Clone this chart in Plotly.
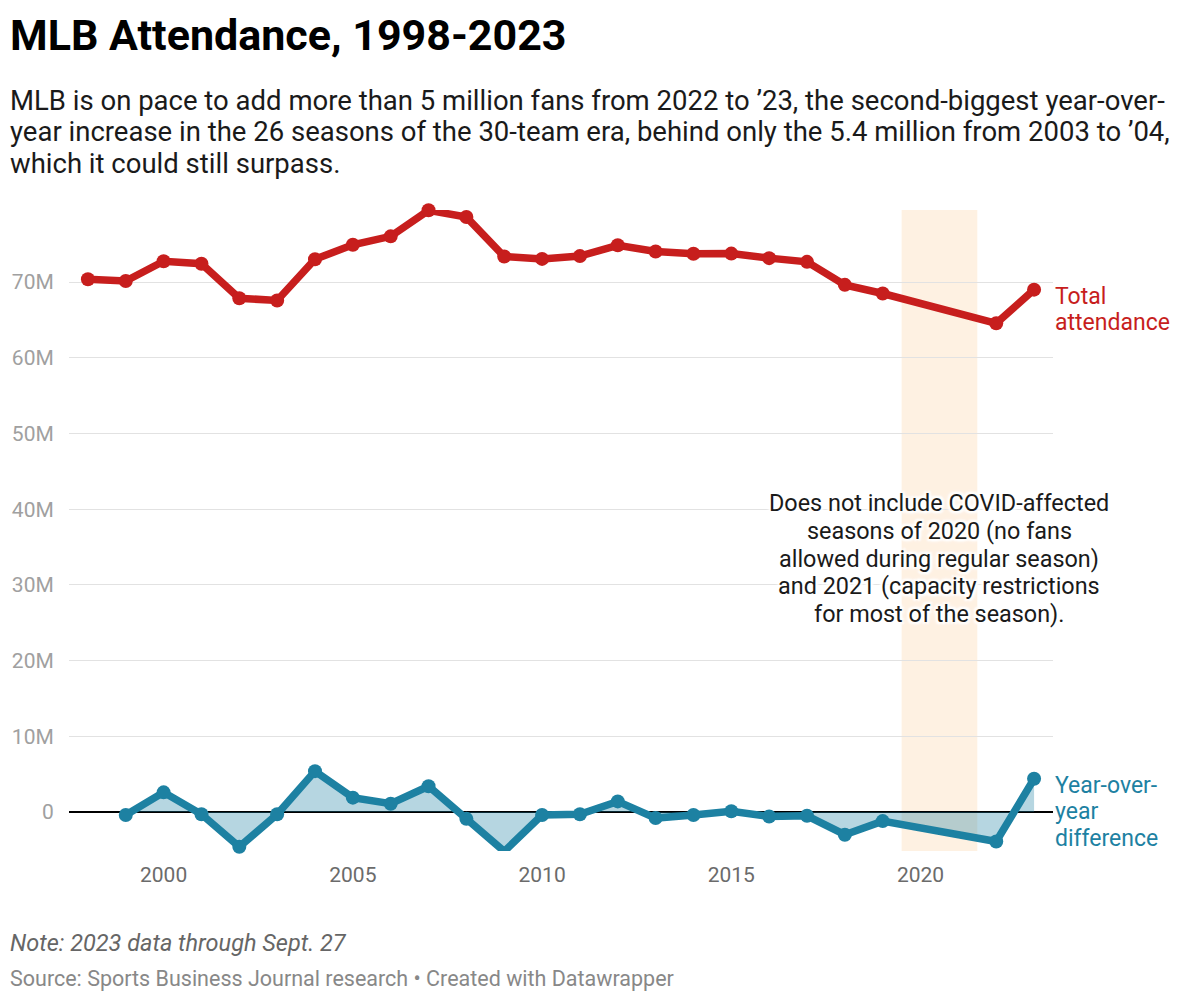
import plotly.graph_objects as go

# ---- data ----
years_total = [1998, 1999, 2000, 2001, 2002, 2003, 2004, 2005, 2006, 2007, 2008,
               2009, 2010, 2011, 2012, 2013, 2014, 2015, 2016, 2017, 2018, 2019,
               2022, 2023]
total_attendance = [70.37, 70.14, 72.75, 72.42, 67.86, 67.57, 73.02, 74.92, 76.04,
                    79.48, 78.59, 73.37, 73.06, 73.43, 74.86, 74.03, 73.74, 73.76,
                    73.16, 72.67, 69.63, 68.49, 64.56, 69.0]  # millions

years_diff = [1999, 2000, 2001, 2002, 2003, 2004, 2005, 2006, 2007, 2008, 2009,
              2010, 2011, 2012, 2013, 2014, 2015, 2016, 2017, 2018, 2019, 2022, 2023]
yoy_difference = [-0.4, 2.6, -0.3, -4.6, -0.3, 5.4, 1.9, 1.1, 3.4, -0.9, -5.2,
                  -0.4, -0.3, 1.4, -0.8, -0.4, 0.1, -0.6, -0.5, -3.0, -1.2, -3.9, 4.4]  # millions

y_ticks = [0, 10, 20, 30, 40, 50, 60, 70]
y_tick_labels = ["0", "10M", "20M", "30M", "40M", "50M", "60M", "70M"]
x_ticks = [2000, 2005, 2010, 2015, 2020]
covid_band = [2019.5, 2021.5]

RED = "#c71e1d"
BLUE = "#1d81a2"
FONT = "Roboto"

W, H = 1200, 1003
ML, MR, MT, MB = 69, 147, 210, 152
PW = W - ML - MR
PH = H - MT - MB


def px_x(px):
    return (px - ML) / PW


def px_y(py):
    return (H - MB - py) / PH


fig = go.Figure()

fig.add_trace(go.Scatter(
    x=years_diff, y=[v * 1e6 for v in yoy_difference], mode="none",
    fill="tozeroy", fillcolor="rgba(29,129,162,0.32)", hoverinfo="skip",
    showlegend=False))
fig.add_trace(go.Scatter(
    x=years_diff, y=[v * 1e6 for v in yoy_difference], mode="lines+markers",
    line=dict(color=BLUE, width=7.5), marker=dict(color=BLUE, size=14),
    cliponaxis=False, showlegend=False))
fig.add_trace(go.Scatter(
    x=years_total, y=[v * 1e6 for v in total_attendance], mode="lines+markers",
    line=dict(color=RED, width=7.5), marker=dict(color=RED, size=14),
    cliponaxis=False, showlegend=False))

fig.add_shape(type="rect", xref="x", yref="paper", x0=covid_band[0], x1=covid_band[1],
              y0=0, y1=1, fillcolor="#fef1e2", line=dict(width=0), layer="below")

ann = []


def add_text(text, px, py, size, color, xanchor="left", shadow=None, align="left"):
    f = dict(family=FONT, size=size, color=color)
    if shadow:
        f["shadow"] = shadow
    ann.append(dict(text=text, xref="paper", yref="paper", x=px_x(px), y=px_y(py),
                    xanchor=xanchor, yanchor="middle", showarrow=False, font=f,
                    align=align))


add_text("<b>MLB Attendance, 1998-2023</b>", 8, 35, 43, "#000000")
sub = ["MLB is on pace to add more than 5 million fans from 2022 to ’23, the second-biggest year-over-",
       "year increase in the 26 seasons of the 30-team era, behind only the 5.4 million from 2003 to ’04,",
       "which it could still surpass."]
for i, line in enumerate(sub):
    add_text(line, 8, 100 + i * 31.5, 27.5, "#1a1a1a")

add_text("Total", 1053, 296, 23, RED)
add_text("attendance", 1053, 322, 23, RED)
add_text("Year-over-", 1053, 785, 23, BLUE)
add_text("year", 1053, 811, 23, BLUE)
add_text("difference", 1053, 838, 23, BLUE)

sh = ("2px 2px 2px white, -2px -2px 2px white, 2px -2px 2px white, -2px 2px 2px white, "
      "0 0 6px white, 0 0 6px white")
covid_lines = ["Does not include COVID-affected", "seasons of 2020 (no fans",
               "allowed during regular season)", "and 2021 (capacity restrictions",
               "for most of the season)."]
for i, line in enumerate(covid_lines):
    add_text(line, 939, 503 + i * 27.8, 23.4, "#1a1a1a", xanchor="center", shadow=sh)

add_text("<i>Note: 2023 data through Sept. 27</i>", 8, 943, 23.5, "#666666")
add_text("Source: Sports Business Journal research • Created with Datawrapper", 8, 978, 21.5, "#888888")

fig.update_layout(
    width=W, height=H,
    margin=dict(l=ML, r=MR, t=MT, b=MB),
    paper_bgcolor="white", plot_bgcolor="white",
    font=dict(family=FONT),
    annotations=ann,
    xaxis=dict(range=[1997.5, 2023.5], tickvals=x_ticks, showgrid=False,
               zeroline=False, showline=False, ticks="outside", ticklen=5,
               tickcolor="rgba(0,0,0,0)", tickfont=dict(size=21, color="#6b6b6b")),
    yaxis=dict(range=[-5.15e6, 79.52e6], tickvals=[v * 1e6 for v in y_ticks],
               ticktext=y_tick_labels, showgrid=True, gridcolor="#e2e2e2", gridwidth=1,
               zeroline=True, zerolinecolor="#000000", zerolinewidth=1.6,
               showline=False, ticks="outside", ticklen=10, tickcolor="rgba(0,0,0,0)",
               tickfont=dict(size=21, color="#a0a0a0")),
)

fig.write_html("out.html", config={"displayModeBar": False},
               post_script="document.body.style.margin='0';")
